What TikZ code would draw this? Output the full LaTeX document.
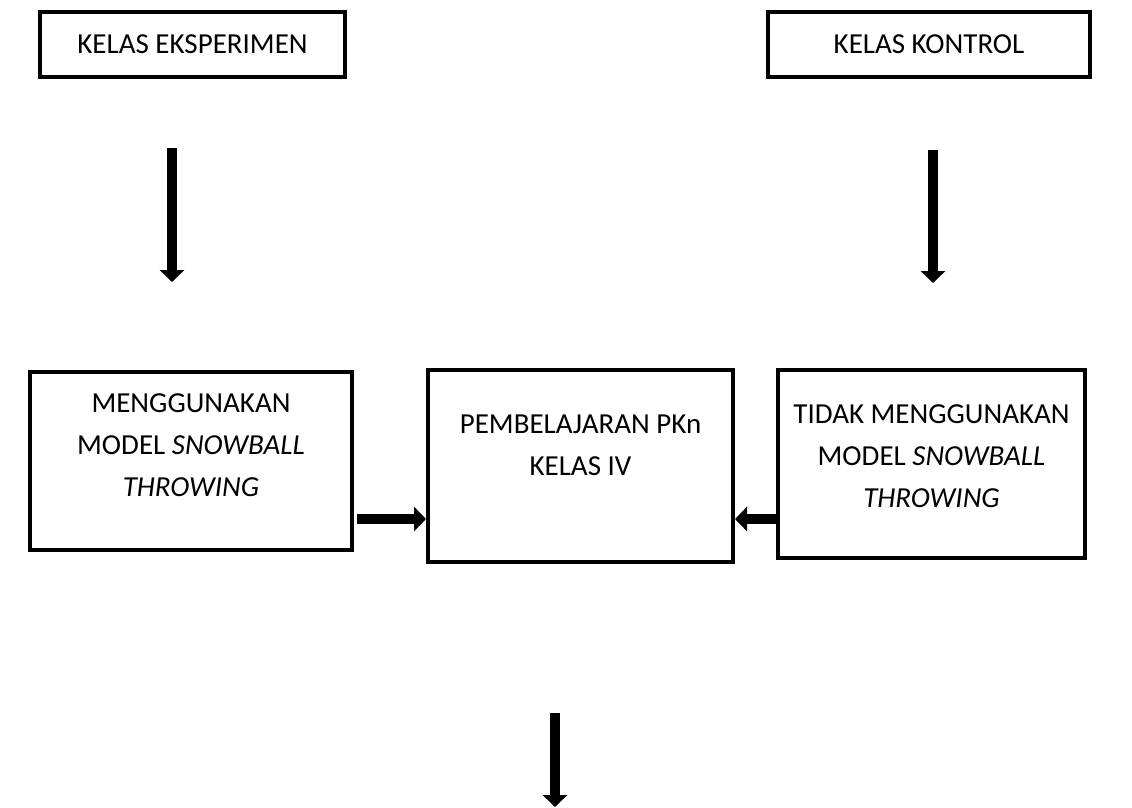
\documentclass[tikz,border=0pt]{standalone}
\usepackage{fontspec}
\setmainfont{Carlito}
\usetikzlibrary{arrows.meta, positioning}

\tikzset{
  kotak/.style={draw, line width=4pt, inner sep=0pt},
  teks/.style={align=center, font=\fontsize{29}{42}\selectfont},
  panah/.style={line width=10pt, -{Triangle[length=12pt, width=24pt]}}
}

\begin{document}
\begin{tikzpicture}[x=1pt, y=-1pt]
  \useasboundingbox (0,0) rectangle (1132,807);

  % Kelas
  \node[kotak, teks, minimum width=305pt, minimum height=65pt] (eksp) at (192.5,44.5) {KELAS EKSPERIMEN};
  \node[kotak, teks, minimum width=322pt, minimum height=65pt] (kontrol) at (929,44.5) {KELAS KONTROL};

  % Perlakuan
  \node[kotak, minimum width=322pt, minimum height=178pt] (snow) at (191,461) {};
  \node[kotak, minimum width=305pt, minimum height=192pt] (pkn) at (580.5,466) {};
  \node[kotak, minimum width=307pt, minimum height=188pt] (tanpa) at (931.5,464) {};

  \node[teks] (snowteks) at (191,445) {MENGGUNAKAN\\MODEL \textit{SNOWBALL}\\\textit{THROWING}};
  \node[teks] (pknteks) at (580.5,445) {PEMBELAJARAN PKn\\KELAS IV};
  \node[teks] (tanpateks) at (931.5,456) {TIDAK MENGGUNAKAN\\MODEL \textit{SNOWBALL}\\\textit{THROWING}};

  % Panah
  \coordinate (a1) at (172,148);
  \coordinate (b1) at (172,282);
  \coordinate (a2) at (933,150);
  \coordinate (b2) at (933,283);
  \coordinate (a3) at (555,713);
  \coordinate (b3) at (555,807);
  \coordinate (kiri) at (357,519);

  \draw[panah] (a1) -- (b1);
  \draw[panah] (a2) -- (b2);
  \draw[panah] (a3) -- (b3);
  \draw[panah] (kiri) -- (kiri -| pkn.west);
  \draw[panah] (tanpa.west |- kiri) -- (pkn.east |- kiri);
\end{tikzpicture}
\end{document}
